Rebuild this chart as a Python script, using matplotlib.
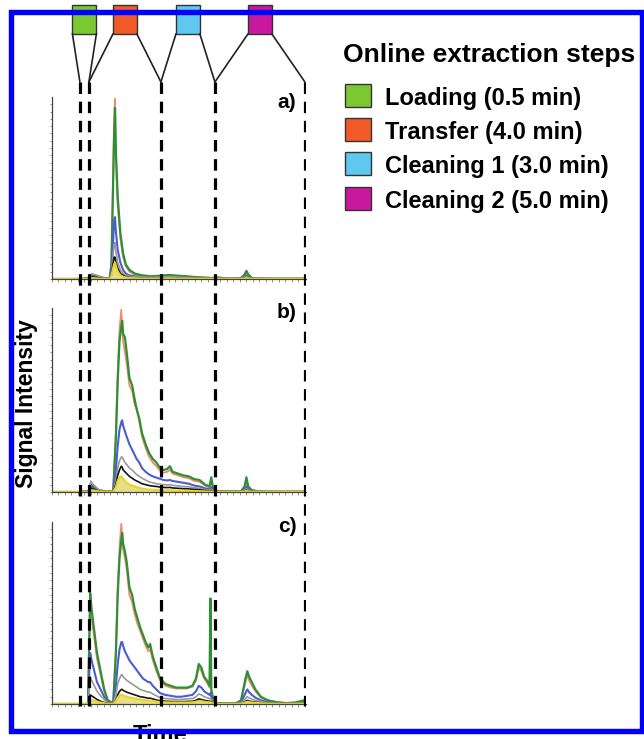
import matplotlib
matplotlib.use('Agg')
import matplotlib.pyplot as plt
from matplotlib.patches import Rectangle
import numpy as np

plt.rcParams['font.family'] = ['Liberation Sans', 'DejaVu Sans']

# ---------------- data ----------------
step_names = ['Loading (0.5 min)', 'Transfer (4.0 min)', 'Cleaning 1 (3.0 min)', 'Cleaning 2 (5.0 min)']
step_durations = [0.5, 4.0, 3.0, 5.0]
step_colors = ['#7cc832', '#f25a28', '#5ec8f0', '#c8189e']
loading_start = 1.55
t_max = 14.11
panel_labels = ['a)', 'b)', 'c)']
legend_title = 'Online extraction steps'

t_a = [0, 1.5, 2.05, 2.2, 2.5, 2.9, 3.2, 3.3, 3.4, 3.45, 3.5, 3.55, 3.65, 3.8, 3.95, 4.1, 4.3, 4.6, 5.0, 5.5, 6.0, 6.5, 7.0, 7.5, 8.0, 8.5, 8.9, 9.1, 9.5, 10.0, 10.5, 10.7, 10.8, 10.9, 11.1, 11.5, 12.5, 14.0]
green_a = [0,0,0.5,2,1.5,0.5,0.5,8,55,80,94,70,45,25,14,8,5,3,2,1.5,1.8,2.2,1.8,1.5,1,0.8,0.5,1,0.5,0.3,0.5,2.5,4.5,2.5,0.6,0.3,0.2,0.2]
salmon_a = [0,0,0.4,1.8,1.3,0.4,0.4,7,58,85,99,66,40,22,12,7,4,2.5,1.8,1.3,1.5,2,1.6,1.3,0.9,0.7,0.4,0.8,0.4,0.3,0.4,1.5,3,1.5,0.5,0.3,0.2,0.2]
blue_a = [0,0,0.3,1.5,1,0.3,0.3,4,22,32,34,26,16,9,5,3,2,1.5,1,0.8,1,1.2,1,0.8,0.6,0.5,0.3,0.6,0.3,0.2,0.3,1,1.8,1,0.3,0.2,0.1,0.1]
grey_a = [0,0,0.5,3,2,0.5,0.3,3,14,19,20,15,9,5,3,2,1.5,1.2,1,0.8,1,1.2,1,0.8,0.6,0.5,0.3,0.5,0.3,0.2,0.3,0.8,1.2,0.8,0.3,0.2,0.1,0.1]
black_a = [0,0,0.2,1,0.8,0.2,0.2,2,9,12,12,9,6,3,2,1.2,0.8,0.6,0.5,0.4,0.5,0.6,0.5,0.4,0.3,0.3,0.2,0.3,0.2,0.1,0.2,0.4,0.6,0.4,0.2,0.1,0.1,0.1]
yellow_a = [0,0,0,0.5,0.3,0.1,0.1,1.5,6,8,9,7,4,2,1.2,0.8,0.5,0.4,0.3,0.3,0.3,0.4,0.3,0.3,0.2,0.2,0.1,0.2,0.1,0.1,0.1,0.3,0.5,0.3,0.1,0.1,0.1,0.1]

t_b = [0, 1.5, 2.05, 2.15, 2.3, 2.6, 3.0, 3.4, 3.55, 3.65, 3.75, 3.85, 3.9, 3.95, 4.05, 4.15, 4.3, 4.45, 4.6, 4.7, 4.85, 5.0, 5.2, 5.4, 5.6, 5.8, 6.0, 6.2, 6.4, 6.55, 6.7, 7.0, 7.3, 7.6, 7.9, 8.2, 8.5, 8.75, 8.85, 8.95, 9.2, 10.0, 10.5, 10.7, 10.8, 10.9, 11.1, 11.5, 12.5, 14.0]
green_b = [0,0,0.5,4,3,1,0.3,0.3,30,60,82,90,93,86,84,76,62,58,50,45,40,32,26,21,18,16,13,12,12.5,14,11,10,9,8.5,7,6.5,4,3,8,2,0.5,0.3,0.5,3,8,3,1,0.3,0.2,0.2]
salmon_b = [0,0,0.4,3.5,2.5,0.8,0.3,0.3,32,65,88,99,90,82,76,70,58,55,47,46,38,30,24,19,16,14,11.5,10.5,11,12,10,9,8,7.5,6,5.5,3.5,2.5,6,1.5,0.4,0.3,0.4,2.5,6,2.5,0.8,0.3,0.2,0.2]
blue_b = [0,0,0.3,3,2,0.6,0.2,0.2,12,25,34,38,39,36,33,30,26,23,20,18,16,13,11,9.5,8.5,7.8,7.2,6.5,6.3,6.5,6,5.5,5,4.5,3.5,3,2,1.5,2.5,1,0.3,0.2,0.3,1.5,3,1.5,0.5,0.2,0.1,0.1]
grey_b = [0,0,0.5,6,4,1.2,0.3,0.3,6,13,17,19,19,18,16,15,13,12,10.5,9.5,8.5,7.5,6.5,5.5,5,4.5,4.2,4,3.8,4,3.6,3.3,3,2.8,2.3,2,1.3,1,1.5,0.6,0.2,0.1,0.2,1,1.8,1,0.3,0.1,0.1,0.1]
black_b = [0,0,0.3,2,1.5,0.5,0.2,0.2,4,9,12,14,13.5,12,11,10,8.5,7.5,6.5,6,5.3,4.5,4,3.5,3.2,3,2.7,2.5,2.4,2.5,2.2,2,1.8,1.7,1.4,1.2,0.8,0.6,0.8,0.3,0.1,0.1,0.1,0.5,1,0.5,0.2,0.1,0.1,0.1]
yellow_b = [0,0,0.1,1,0.8,0.3,0.1,0.1,2.5,6,8,8.5,8,7,6,5,4,3.5,3,2.6,2.2,1.8,1.5,1.3,1.2,1.1,1,0.9,0.9,1,0.8,0.7,0.6,0.6,0.5,0.4,0.3,0.2,0.3,0.1,0.1,0.1,0.1,0.3,0.6,0.3,0.1,0.1,0.1,0.1]

t_c = [0, 1.5, 2.0, 2.06, 2.12, 2.2, 2.35, 2.5, 2.7, 2.9, 3.1, 3.4, 3.55, 3.65, 3.75, 3.85, 3.9, 3.95, 4.05, 4.15, 4.3, 4.45, 4.6, 4.75, 4.9, 5.05, 5.2, 5.35, 5.45, 5.6, 5.8, 6.0, 6.3, 6.6, 6.9, 7.2, 7.5, 7.8, 8.0, 8.15, 8.3, 8.45, 8.6, 8.75, 8.8, 8.85, 8.95, 9.1, 9.5, 10.2, 10.5, 10.75, 10.85, 10.95, 11.1, 11.3, 11.6, 12.0, 12.5, 13.0, 13.5, 14.0]
green_c = [0,0,0,30,61,52,40,28,18,8,2,0.5,28,60,80,90,94,88,84,78,64,60,52,47,42,38,34,31,33,26,20,14,11,10,9,9,9,10,14,22,20,15,13,10,58,8,3,0.5,0.3,0.3,2,14,18,15,12,8,4,2,1,0.5,0.8,2]
salmon_c = [0,0,0,27,55,48,36,25,16,7,1.8,0.5,30,64,86,99,92,85,80,74,60,56,49,44,40,36,32,29,30,24,18,13,10,9,8.5,8.5,8.5,9.5,13,20,18,14,12,9,10,7,2.5,0.4,0.3,0.3,1.8,12,16,13,10,7,3.5,1.8,0.9,0.5,0.7,1.8]
blue_c = [0,0,0,15,28,24,18,12,8,4,1,0.3,10,22,30,34,34,32,29,27,24,22,20,18,16,14,13,12,12,10,8,6,5,4.5,4,4,4.5,5,7,10,9,7,6,5,6,4,1.5,0.3,0.2,0.2,1,6,8,6.5,5,3.5,2,1,0.5,0.3,0.4,1]
grey_c = [0,0,0,8,15,13,10,7,4.5,2.5,0.7,0.2,5,11,14,16,16,15,14,13,12,11,10,9,8,7.5,7,6.5,6.5,5.5,4.5,3.5,3,2.8,2.5,2.5,2.8,3,4,5.5,5,4,3.5,3,3,2.5,1,0.2,0.1,0.1,0.6,3,4,3.3,2.7,2,1.2,0.6,0.3,0.2,0.3,0.7]
black_c = [0,0,0,3,5,4.5,3.5,2.5,1.5,0.8,0.3,0.1,2,5,7,8,8,7.5,7,6.5,6,5.5,5,4.5,4,3.8,3.5,3.2,3.2,2.8,2.2,1.8,1.5,1.4,1.3,1.3,1.4,1.5,2,2.8,2.5,2,1.8,1.5,1.5,1.2,0.5,0.1,0.1,0.1,0.3,1.5,2,1.6,1.3,1,0.6,0.3,0.2,0.1,0.2,0.4]
yellow_c = [0,0,0,1.5,2.5,2.2,1.7,1.2,0.8,0.4,0.1,0.05,1.5,3.5,4.5,5,5,4.6,4.3,4,3.6,3.3,3,2.7,2.4,2.2,2,1.9,1.9,1.6,1.3,1,0.9,0.8,0.8,0.8,0.8,0.9,1.2,1.6,1.5,1.2,1,0.9,0.9,0.7,0.3,0.05,0.05,0.05,0.2,0.9,1.2,1,0.8,0.6,0.4,0.2,0.1,0.05,0.1,0.2]

panels = [
    (t_a, salmon_a, green_a, blue_a, grey_a, black_a, yellow_a),
    (t_b, salmon_b, green_b, blue_b, grey_b, black_b, yellow_b),
    (t_c, salmon_c, green_c, blue_c, grey_c, black_c, yellow_c),
]

# ---------------- layout (pixel geometry) ----------------
W, H = 644, 739
fig = plt.figure(figsize=(W / 100, H / 100), dpi=100)
fig.patch.set_facecolor('white')

def fx(px):
    return px / W

def fy(py):
    return 1 - py / H

X0, X1 = 52, 306
panel_px = [(97, 279), (308, 492), (522, 704)]
trace_styles = [
    ('#f08a6c', 1.3),   # salmon
    ('#2e8f36', 1.6),   # green
    ('#4a5ed0', 1.5),   # blue
    ('#9a9a9a', 1.2),   # grey
    ('#151515', 1.2),   # black
    ('#e6d62a', 1.6),   # yellow
]

for (top, bot), data, lab in zip(panel_px, panels, panel_labels):
    ax = fig.add_axes([fx(X0), fy(bot), fx(X1) - fx(X0), (bot - top) / H])
    t = data[0]
    for series, (col, lw) in zip(data[1:], trace_styles):
        ax.plot(t, series, color=col, lw=lw, solid_joinstyle='round')
    ax.fill_between(t, 0, data[6], color='#d8c83a', alpha=0.6, lw=0)
    ax.set_xlim(0, t_max)
    ax.set_ylim(0, 100)
    for s in ['top', 'right']:
        ax.spines[s].set_visible(False)
    for s in ['left', 'bottom']:
        ax.spines[s].set_color('#444444')
        ax.spines[s].set_linewidth(0.9)
    ax.set_xticks(np.arange(0, t_max, 0.36))
    ax.set_yticks(np.arange(0, 100, 4))
    ax.tick_params(axis='x', length=2, width=0.5, color='#666666', labelbottom=False, direction='out')
    ax.tick_params(axis='y', length=1.5, width=0.5, color='#666666', labelleft=False, direction='out')
    ax.patch.set_alpha(0)
    fig.text(fx(287), fy(top + 5), lab, ha='center', va='center', fontsize=15, fontweight='bold')

# overlay for step boundaries and boxes
ov = fig.add_axes([fx(X0), 0, fx(X1) - fx(X0), 1], zorder=5)
ov.set_xlim(0, t_max)
ov.set_ylim(H, 0)
ov.axis('off')
ov.patch.set_alpha(0)

bounds = np.concatenate([[loading_start], loading_start + np.cumsum(step_durations)])
for b in bounds:
    ov.plot([b, b], [82, 706], color='black', lw=2.3, ls=(0, (3.6, 2.4)), dash_capstyle='butt')

box_w = 1.33
for i, col in enumerate(step_colors):
    c = (bounds[i] + bounds[i + 1]) / 2
    ov.add_patch(Rectangle((c - box_w / 2, 5), box_w, 29, facecolor=col, edgecolor='#333333', lw=1.0))
    ov.plot([c - box_w / 2, bounds[i]], [34, 82], color='#222222', lw=1.2)
    ov.plot([c + box_w / 2, bounds[i + 1]], [34, 82], color='#222222', lw=1.2)

# axis titles
fig.text(fx(26.5), fy(404), 'Signal Intensity', rotation=90, ha='center', va='center',
         fontsize=16.5, fontweight='bold')
fig.text(fx(160), fy(724), 'Time', ha='center', va='top', fontsize=17, fontweight='bold')

# legend
fig.text(fx(343), fy(62), legend_title, ha='left', va='baseline', fontsize=19, fontweight='bold')
row_base = [105, 138.5, 173, 208]
for name, col, yb in zip(step_names, step_colors, row_base):
    fig.patches.append(Rectangle((fx(345), fy(yb + 2)), fx(371) - fx(345), 23 / H,
                                 transform=fig.transFigure, facecolor=col, edgecolor='#333333', lw=1.0))
    fig.text(fx(385), fy(yb), name, ha='left', va='baseline', fontsize=17, fontweight='bold')

# blue frame
fig.patches.append(Rectangle((fx(10.8), fy(730.5)), fx(642) - fx(10.8), fy(12.2) - fy(730.5),
                             transform=fig.transFigure, fill=False, edgecolor='#0000ff', lw=3.9, zorder=20))

fig.savefig('out.png', dpi=100, facecolor='white')
